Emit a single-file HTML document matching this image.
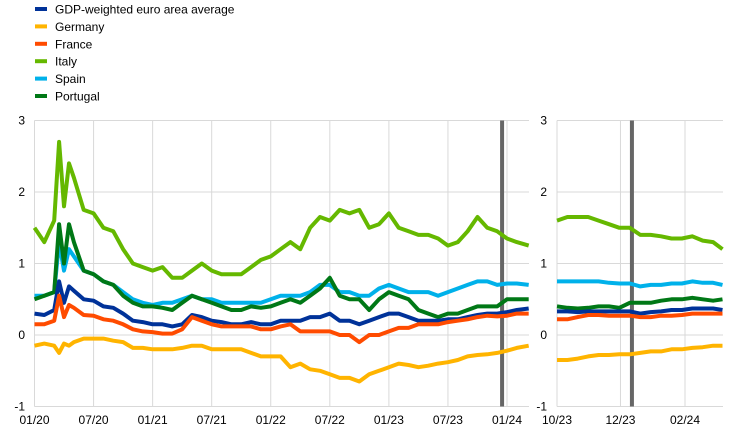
<!DOCTYPE html>
<html><head><meta charset="utf-8">
<style>
html,body{margin:0;padding:0;background:#fff;}
body{width:744px;height:433px;overflow:hidden;font-family:"Liberation Sans",Arial,sans-serif;}
svg text{font-family:"Liberation Sans",Arial,sans-serif;font-size:12px;fill:#000;}
</style></head><body>
<svg id="chart" width="744" height="433" xmlns="http://www.w3.org/2000/svg"></svg>
<script>
const seriesNames=["GDP-weighted euro area average","Germany","France","Italy","Spain","Portugal"];
const seriesColors=["#003299","#ffb400","#ff4b00","#65b800","#00b1ea","#007816"];
const yTicks=[-1,0,1,2,3];
const leftTickLabels=["01/20","07/20","01/21","07/21","01/22","07/22","01/23","07/23","01/24"];
const leftTickMonths=[0,6,12,18,24,30,36,42,48];
const rightTickLabels=["10/23","12/23","02/24"];
const rightTickDays=[0,61,123];
const leftMonths=[0,1,2,2.5,3,3.5,4,5,6,7,8,9,10,11,12,13,14,15,16,17,18,19,20,21,22,23,24,25,26,27,28,29,30,31,32,33,34,35,36,37,38,39,40,41,42,43,44,45,46,47,48,49,50.2];
const leftEA=[0.3,0.28,0.35,0.75,0.45,0.68,0.62,0.5,0.48,0.4,0.38,0.3,0.2,0.18,0.15,0.15,0.12,0.15,0.28,0.25,0.2,0.18,0.15,0.15,0.18,0.15,0.15,0.2,0.2,0.2,0.25,0.25,0.3,0.2,0.2,0.15,0.2,0.25,0.3,0.3,0.25,0.2,0.2,0.2,0.22,0.22,0.25,0.28,0.3,0.3,0.32,0.35,0.37];
const leftDE=[-0.15,-0.12,-0.15,-0.25,-0.12,-0.15,-0.1,-0.05,-0.05,-0.05,-0.08,-0.1,-0.18,-0.18,-0.2,-0.2,-0.2,-0.18,-0.15,-0.15,-0.2,-0.2,-0.2,-0.2,-0.25,-0.3,-0.3,-0.3,-0.45,-0.4,-0.48,-0.5,-0.55,-0.6,-0.6,-0.65,-0.55,-0.5,-0.45,-0.4,-0.42,-0.45,-0.43,-0.4,-0.38,-0.35,-0.3,-0.28,-0.27,-0.25,-0.22,-0.18,-0.15];
const leftFR=[0.15,0.15,0.2,0.55,0.25,0.42,0.38,0.28,0.27,0.22,0.2,0.15,0.08,0.05,0.04,0.02,0.02,0.08,0.25,0.2,0.15,0.12,0.12,0.12,0.12,0.08,0.08,0.12,0.15,0.05,0.05,0.05,0.05,0.0,0.0,-0.1,0.0,0.0,0.05,0.1,0.1,0.15,0.15,0.15,0.18,0.2,0.22,0.25,0.27,0.26,0.27,0.3,0.3];
const leftIT=[1.5,1.3,1.6,2.7,1.8,2.4,2.2,1.75,1.7,1.5,1.45,1.2,1.0,0.95,0.9,0.95,0.8,0.8,0.9,1.0,0.9,0.85,0.85,0.85,0.95,1.05,1.1,1.2,1.3,1.2,1.5,1.65,1.6,1.75,1.7,1.75,1.5,1.55,1.7,1.5,1.45,1.4,1.4,1.35,1.25,1.3,1.45,1.65,1.5,1.45,1.35,1.3,1.25];
const leftES=[0.55,0.55,0.6,1.3,0.9,1.2,1.1,0.9,0.85,0.75,0.7,0.6,0.5,0.45,0.42,0.45,0.45,0.5,0.55,0.5,0.5,0.45,0.45,0.45,0.45,0.45,0.5,0.55,0.55,0.55,0.6,0.7,0.7,0.6,0.6,0.55,0.55,0.65,0.7,0.65,0.6,0.6,0.6,0.55,0.6,0.65,0.7,0.75,0.75,0.7,0.72,0.72,0.7];
const leftPT=[0.5,0.55,0.6,1.55,1.0,1.55,1.3,0.9,0.85,0.75,0.7,0.55,0.45,0.4,0.4,0.38,0.35,0.45,0.55,0.5,0.45,0.4,0.35,0.35,0.4,0.38,0.4,0.45,0.5,0.45,0.55,0.65,0.8,0.55,0.5,0.5,0.35,0.5,0.6,0.55,0.5,0.35,0.3,0.25,0.3,0.3,0.35,0.4,0.4,0.4,0.5,0.5,0.5];
const rightDays=[0,10,20,30,40,50,60,70,80,90,100,110,120,130,140,150,159];
const rightEA=[0.33,0.33,0.32,0.33,0.33,0.33,0.33,0.33,0.3,0.32,0.33,0.35,0.35,0.37,0.37,0.37,0.35];
const rightDE=[-0.35,-0.35,-0.33,-0.3,-0.28,-0.28,-0.27,-0.27,-0.25,-0.23,-0.23,-0.2,-0.2,-0.18,-0.17,-0.15,-0.15];
const rightFR=[0.22,0.22,0.25,0.28,0.28,0.27,0.27,0.27,0.25,0.25,0.27,0.27,0.28,0.3,0.3,0.3,0.3];
const rightIT=[1.6,1.65,1.65,1.65,1.6,1.55,1.5,1.5,1.4,1.4,1.38,1.35,1.35,1.38,1.32,1.3,1.2];
const rightES=[0.75,0.75,0.75,0.75,0.75,0.73,0.72,0.72,0.68,0.7,0.7,0.72,0.72,0.75,0.73,0.73,0.7];
const rightPT=[0.4,0.38,0.37,0.38,0.4,0.4,0.38,0.45,0.45,0.45,0.48,0.5,0.5,0.52,0.5,0.48,0.5];
const leftMarkerMonth=47.5;
const rightMarkerDay=72;

const NS="http://www.w3.org/2000/svg";
const svg=document.getElementById("chart");
function mk(tag,attrs,parent){const e=document.createElementNS(NS,tag);for(const k in attrs)e.setAttribute(k,attrs[k]);(parent||svg).appendChild(e);return e;}
const yScale=v=>335-v*71.5;
const xLeft=m=>34.5+m*(507-34.5)/48;
const xRight=d=>557+d*(685-557)/123;

seriesNames.forEach((n,i)=>{
  const g=mk("g",{});
  
  
  const cy=9+i*17.4;
  mk("rect",{x:35,y:cy-2,width:12,height:4,fill:seriesColors[i]},g);
  const t=mk("text",{x:55,y:cy+4.5},g);t.textContent=n;
});

function panel(x0,x1,xs,ticks,labels,marker,name,ylabX){
  const g=mk("g",{});
  
  
  yTicks.forEach(v=>{
    mk("line",{x1:x0,x2:x1,y1:yScale(v),y2:yScale(v),stroke:"#d9d9d9","stroke-width":1},g);
    const t=mk("text",{x:ylabX,y:yScale(v)+4,"text-anchor":"end"},g);t.textContent=v;
    
    
  });
  ticks.forEach((m,i)=>{
    mk("line",{x1:xs(m),x2:xs(m),y1:yScale(3),y2:yScale(-1),stroke:"#d9d9d9","stroke-width":1},g);
    const t=mk("text",{x:xs(m),y:424,"text-anchor":"middle"},g);t.textContent=labels[i];
    
    
  });
  const ml=mk("line",{x1:xs(marker),x2:xs(marker),y1:yScale(3),y2:yScale(-1),stroke:"#666","stroke-width":4},g);
  
  
  return g;
}
panel(34.5,529,xLeft,leftTickMonths,leftTickLabels,leftMarkerMonth,"left-panel",25);
panel(557,723,xRight,rightTickDays,rightTickLabels,rightMarkerDay,"right-panel",547);

const leftSeries=[leftEA,leftDE,leftFR,leftIT,leftES,leftPT];
const rightSeries=[rightEA,rightDE,rightFR,rightIT,rightES,rightPT];
const order=[3,4,5,0,2,1];
order.forEach(i=>{
  const d1=leftSeries[i].map((v,k)=>(k?"L":"M")+xLeft(leftMonths[k]).toFixed(1)+","+yScale(v).toFixed(1)).join("");
  const p1=mk("path",{d:d1,fill:"none",stroke:seriesColors[i],"stroke-width":4,"stroke-linejoin":"round"});
  
  
  const d2=rightSeries[i].map((v,k)=>(k?"L":"M")+xRight(rightDays[k]).toFixed(1)+","+yScale(v).toFixed(1)).join("");
  const p2=mk("path",{d:d2,fill:"none",stroke:seriesColors[i],"stroke-width":4,"stroke-linejoin":"round"});
  
  
});
</script>
</body></html>
